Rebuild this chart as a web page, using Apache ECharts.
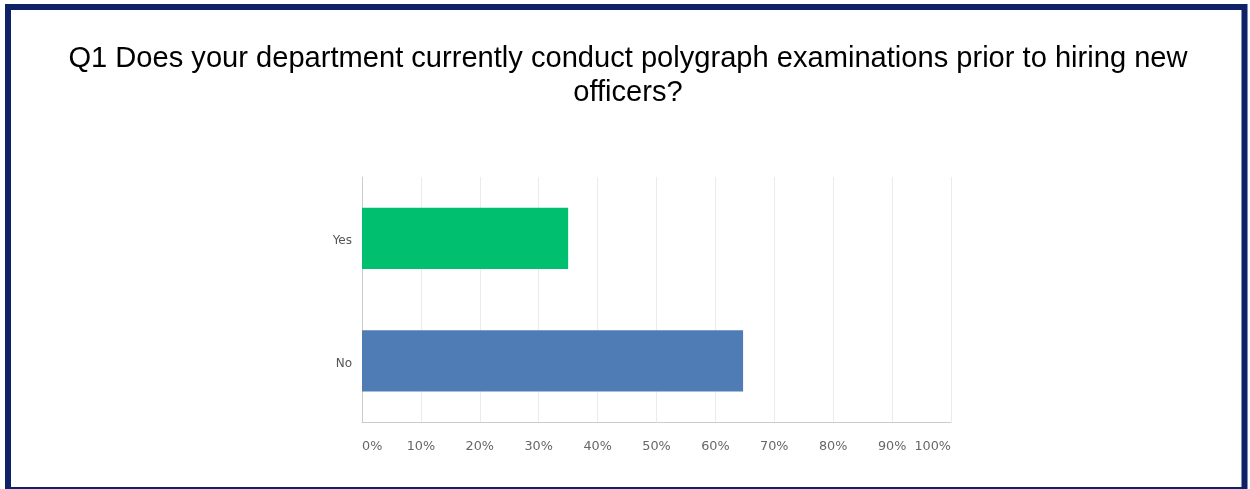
<!DOCTYPE html>
<html>
<head>
<meta charset="utf-8">
<script src="https://cdn.jsdelivr.net/npm/echarts@6/dist/echarts.min.js"></script>
<style>
html,body{margin:0;padding:0;background:#fff;}
#c{width:1250px;height:489px;}
</style>
</head>
<body>
<div id="c"></div>
<script>
const categories = ['No', 'Yes'];
const values = [64.7, 35.0];
const barColors = ['#507cb6', '#00bf6f'];
const tickLabels = ['0%','10%','20%','30%','40%','50%','60%','70%','80%','90%','100%'];
const titleText = 'Q1 Does your department currently conduct polygraph examinations prior to hiring new\nofficers?';

const chart = echarts.init(document.getElementById('c'));
chart.setOption({
  animation: false,
  backgroundColor: '#fff',
  title: {
    text: titleText,
    left: 623,
    textAlign: 'center',
    top: 37,
    textStyle: {
      fontFamily: 'Liberation Sans, Arial, sans-serif',
      fontSize: 29.1,
      fontWeight: 'normal',
      color: '#000',
      lineHeight: 34
    }
  },
  graphic: [{
    type: 'rect',
    shape: {x: 8, y: 7, width: 1236.5, height: 483},
    style: {fill: 'none', stroke: '#0f2167', lineWidth: 6},
    z: 100
  }],
  grid: {left: 362, right: 299, top: 177, bottom: 67, containLabel: false},
  xAxis: {
    type: 'value',
    min: 0, max: 100, interval: 10,
    axisLine: {show: true, lineStyle: {color: '#cccccc'}},
    axisTick: {show: false},
    splitLine: {show: true, lineStyle: {color: '#ebebeb'}},
    axisLabel: {
      formatter: v => tickLabels[Math.round(v / 10)],
      color: '#666',
      fontFamily: 'DejaVu Sans, sans-serif',
      fontSize: 12.8,
      margin: 18,
      alignMinLabel: 'left',
      alignMaxLabel: 'right'
    }
  },
  yAxis: {
    type: 'category',
    data: categories,
    axisLine: {show: true, lineStyle: {color: '#cccccc'}},
    axisTick: {show: false},
    axisLabel: {color: '#555', fontFamily: 'DejaVu Sans, sans-serif', fontSize: 12, margin: 10, verticalAlign: 'top', lineHeight: 6}
  },
  series: [{
    type: 'bar',
    data: values.map((v, i) => ({value: v, itemStyle: {color: barColors[i]}})),
    barWidth: '50%'
  }]
});
</script>
</body>
</html>
